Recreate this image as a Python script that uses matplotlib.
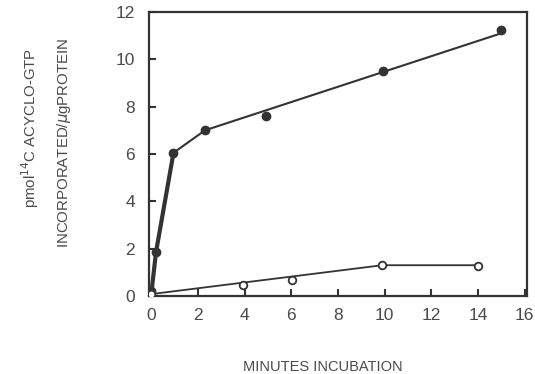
import matplotlib
matplotlib.use('Agg')
import matplotlib.pyplot as plt

# filled circles (measured points)
filled_x = [0.0, 0.2, 0.95, 2.3, 4.9, 9.95, 15.0]
filled_y = [0.2, 1.85, 6.05, 7.0, 7.6, 9.5, 11.25]
# hand drawn curve through filled series
filled_line_x = [0.0, 0.2, 0.95, 2.3, 15.0]
filled_line_y = [0.1, 1.85, 6.05, 7.0, 11.1]

# open circles
open_x = [0.0, 3.95, 6.05, 9.9, 14.0]
open_y = [0.1, 0.47, 0.66, 1.3, 1.28]
open_line_x = [0.0, 9.9, 14.0]
open_line_y = [0.08, 1.3, 1.3]

xticks = [0, 2, 4, 6, 8, 10, 12, 14, 16]
yticks = [0, 2, 4, 6, 8, 10, 12]

plt.rcParams['font.family'] = ['Liberation Sans', 'DejaVu Sans']
ink = '#333333'
txt = '#4a4a4a'

fig = plt.figure(figsize=(5.35, 3.74), dpi=100)
ax = fig.add_axes([0.2785, 0.2086, 0.7065, 0.7594])

# thick initial segment, thinner afterwards
ax.plot(filled_line_x[:3], filled_line_y[:3], color=ink, lw=3.0, zorder=2)
ax.plot(filled_line_x[2:], filled_line_y[2:], color=ink, lw=1.5, zorder=2)
ax.plot(filled_x, filled_y, 'o', color=ink, ms=6, zorder=3)

ax.plot(open_line_x, open_line_y, color=ink, lw=1.3, zorder=2)
ax.plot(open_x, open_y, 'o', mfc='white', mec=ink, mew=1.3, ms=5.5, zorder=3)

ax.set_xlim(-0.1, 16.1)
ax.set_ylim(0, 12)
ax.set_xticks(xticks)
ax.set_yticks(yticks)
ax.tick_params(direction='in', length=5, width=1.5, color=ink,
               labelsize=12.5, labelcolor=txt)
ax.tick_params(axis='x', pad=9)
ax.tick_params(axis='y', pad=10)
for s in ax.spines.values():
    s.set_color(ink)
    s.set_linewidth(1.6)

fig.text(323 / 535, 1 - 367 / 374, 'MINUTES INCUBATION', ha='center',
         va='center', fontsize=10.5, color=txt)
fig.text(0.057, 1 - 128 / 374, 'pmol$^{14}$C ACYCLO-GTP', rotation=90,
         ha='center', va='center', fontsize=10.8, color=txt)
fig.text(0.12, 1 - 143 / 374, 'INCORPORATED/$\\mu$gPROTEIN', rotation=90,
         ha='center', va='center', fontsize=10.8, color=txt)

fig.savefig('out.png', dpi=100)
